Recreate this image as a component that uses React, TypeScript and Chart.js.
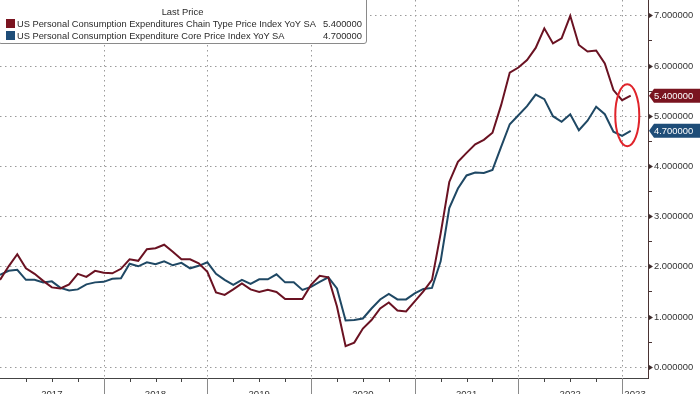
import React, { useEffect, useRef } from "react";
import { Chart, registerables } from "chart.js";
Chart.register(...registerables);

// Monthly YoY values, index 0 = Dec 2016 ... index 73 = Jan 2023 (plotted at month end)
const pceHeadline = [
  1.73, 2.0, 2.24, 1.96, 1.85, 1.71, 1.58, 1.56, 1.64, 1.85, 1.79, 1.91, 1.87,
  1.86, 1.95, 2.14, 2.11, 2.34, 2.36, 2.43, 2.29, 2.14, 2.14, 2.06, 1.89,
  1.48, 1.43, 1.54, 1.66, 1.54, 1.49, 1.53, 1.49, 1.35, 1.35, 1.35, 1.63,
  1.81, 1.78, 1.2, 0.41, 0.48, 0.76, 0.93, 1.16, 1.28, 1.12, 1.1, 1.3,
  1.5, 1.73, 2.65, 3.68, 4.08, 4.26, 4.43, 4.52, 4.66, 5.21, 5.86, 5.96,
  6.11, 6.35, 6.74, 6.44, 6.54, 6.99, 6.41, 6.28, 6.3, 6.04, 5.51, 5.31, 5.4,
];
const pceCore = [
  1.83, 1.91, 1.93, 1.73, 1.73, 1.68, 1.7, 1.57, 1.52, 1.54, 1.64, 1.68, 1.69,
  1.75, 1.76, 2.05, 2.0, 2.08, 2.04, 2.1, 2.02, 2.07, 1.96, 2.01, 2.08,
  1.85, 1.73, 1.63, 1.73, 1.65, 1.74, 1.74, 1.84, 1.68, 1.68, 1.53, 1.59,
  1.69, 1.78, 1.56, 0.92, 0.93, 0.96, 1.16, 1.34, 1.45, 1.34, 1.34, 1.46,
  1.55, 1.57, 2.1, 3.16, 3.55, 3.81, 3.87, 3.86, 3.92, 4.38, 4.83, 5.01,
  5.19, 5.42, 5.33, 4.99, 4.88, 5.03, 4.71, 4.9, 5.18, 5.03, 4.68, 4.6, 4.7,
];
const seriesNames = [
  "US Personal Consumption Expenditures Chain Type Price Index YoY SA",
  "US Personal Consumption Expenditure Core Price Index YoY SA",
];
const lastValues = ["5.400000", "4.700000"];
const yearLabels = ["2017", "2018", "2019", "2020", "2021", "2022", "2023"];
const yTicks = [0, 1, 2, 3, 4, 5, 6, 7];

const X_MIN = 0;
const X_MAX = 75;
const Y_MIN = -0.225;
const Y_MAX = 7.305;

const RED = "#6a1222";
const BLUE = "#1f4864";
const RED_LABEL = "#7a1420";
const BLUE_LABEL = "#1e4d78";
const FONT = '"Liberation Sans", Arial, sans-serif';

const axesPlugin = {
  id: "bbgAxes",
  beforeDatasetsDraw(chart: any) {
    const ctx = chart.ctx;
    const { left, right, top, bottom } = chart.chartArea;
    const xs = chart.scales.x;
    const ys = chart.scales.y;
    const H = chart.height;
    ctx.save();
    // horizontal dotted grid
    ctx.strokeStyle = "#9a9a9a";
    ctx.lineWidth = 1;
    ctx.setLineDash([1.5, 3.5]);
    yTicks.forEach((v) => {
      const y = Math.round(ys.getPixelForValue(v)) + 0.5;
      ctx.beginPath();
      ctx.moveTo(left, y);
      ctx.lineTo(right, y);
      ctx.stroke();
    });
    // vertical dotted grid at year boundaries
    for (let j = 1; j < yearLabels.length; j++) {
      const x = Math.round(xs.getPixelForValue(j * 12)) + 0.5;
      ctx.beginPath();
      ctx.moveTo(x, top);
      ctx.lineTo(x, bottom);
      ctx.stroke();
    }
    ctx.setLineDash([]);
    // bottom axis
    ctx.strokeStyle = "#444";
    ctx.beginPath();
    ctx.moveTo(left, bottom + 0.5);
    ctx.lineTo(right, bottom + 0.5);
    ctx.stroke();
    // major year ticks below axis
    ctx.strokeStyle = "#8a8a8a";
    for (let j = 1; j < yearLabels.length; j++) {
      const x = Math.round(xs.getPixelForValue(j * 12)) + 0.5;
      ctx.beginPath();
      ctx.moveTo(x, bottom);
      ctx.lineTo(x, H);
      ctx.stroke();
    }
    // quarter ticks
    ctx.strokeStyle = "#444";
    for (let k = 3; k < X_MAX; k += 3) {
      if (k % 12 === 0) continue;
      const x = Math.round(xs.getPixelForValue(k)) + 0.5;
      ctx.beginPath();
      ctx.moveTo(x, bottom);
      ctx.lineTo(x, bottom + 4);
      ctx.stroke();
    }
    // right axis line
    ctx.strokeStyle = "#4a3434";
    ctx.beginPath();
    ctx.moveTo(right + 0.5, top);
    ctx.lineTo(right + 0.5, bottom + 1);
    ctx.stroke();
    // y ticks
    ctx.fillStyle = "#3d2b2b";
    yTicks.forEach((v) => {
      const y = Math.round(ys.getPixelForValue(v)) + 0.5;
      ctx.beginPath();
      ctx.moveTo(right + 1, y - 2.5);
      ctx.lineTo(right + 5, y);
      ctx.lineTo(right + 1, y + 2.5);
      ctx.closePath();
      ctx.fill();
      if (v < yTicks[yTicks.length - 1]) {
        const ym = Math.round(ys.getPixelForValue(v + 0.5)) + 0.5;
        ctx.beginPath();
        ctx.moveTo(right, ym);
        ctx.lineTo(right + 4, ym);
        ctx.stroke();
      }
    });
    // y labels
    ctx.fillStyle = "#333";
    ctx.font = `9.4px ${FONT}`;
    ctx.textBaseline = "middle";
    ctx.textAlign = "left";
    yTicks.forEach((v) => {
      const y = ys.getPixelForValue(v);
      ctx.fillText(v.toFixed(6), right + 6, y + 0.5);
    });
    // x labels (centered on visible part of each year)
    ctx.font = `9.6px ${FONT}`;
    ctx.textAlign = "center";
    ctx.textBaseline = "top";
    yearLabels.forEach((lab, j) => {
      const a = j * 12;
      const b = Math.min((j + 1) * 12, X_MAX);
      const x = xs.getPixelForValue((a + b) / 2);
      ctx.fillText(lab, x, bottom + 12);
    });
    ctx.restore();
  },
  afterDatasetsDraw(chart: any) {
    const ctx = chart.ctx;
    const { right } = chart.chartArea;
    const xs = chart.scales.x;
    const ys = chart.scales.y;
    ctx.save();
    const n = pceHeadline.length - 1;
    // red ellipse around the latest readings
    const cx = xs.getPixelForValue(n - 0.4);
    const cy = ys.getPixelForValue((pceHeadline[n] + pceCore[n]) / 2);
    ctx.strokeStyle = "#e0242b";
    ctx.lineWidth = 2;
    ctx.beginPath();
    ctx.ellipse(cx, cy + 2, 12, 31, 0, 0, Math.PI * 2);
    ctx.stroke();
    // value labels on the right axis
    const tags = [
      { v: pceHeadline[n], t: lastValues[0], c: RED_LABEL },
      { v: pceCore[n], t: lastValues[1], c: BLUE_LABEL },
    ];
    ctx.font = `9.4px ${FONT}`;
    ctx.textBaseline = "middle";
    ctx.textAlign = "left";
    tags.forEach((tg) => {
      const y = ys.getPixelForValue(tg.v);
      ctx.fillStyle = tg.c;
      ctx.beginPath();
      ctx.moveTo(right + 1, y);
      ctx.lineTo(right + 6, y - 7);
      ctx.lineTo(chart.width, y - 7);
      ctx.lineTo(chart.width, y + 7);
      ctx.lineTo(right + 6, y + 7);
      ctx.closePath();
      ctx.fill();
      ctx.fillStyle = "#ffffff";
      ctx.fillText(tg.t, right + 6, y + 0.5);
    });
    ctx.restore();
  },
};

export default function App() {
  const ref = useRef<HTMLCanvasElement | null>(null);
  useEffect(() => {
    if (!ref.current) return;
    const chart = new Chart(ref.current, {
      type: "line",
      data: {
        datasets: [
          {
            label: seriesNames[0],
            data: pceHeadline.map((v, i) => ({ x: i, y: v })),
            borderColor: RED,
            borderWidth: 2,
            pointRadius: 0,
            tension: 0,
          },
          {
            label: seriesNames[1],
            data: pceCore.map((v, i) => ({ x: i, y: v })),
            borderColor: BLUE,
            borderWidth: 2,
            pointRadius: 0,
            tension: 0,
          },
        ],
      },
      options: {
        animation: false,
        responsive: false,
        maintainAspectRatio: false,
        layout: { padding: { left: 0, top: 0, right: 52, bottom: 16 } },
        plugins: { legend: { display: false }, tooltip: { enabled: false } },
        scales: {
          x: { type: "linear", min: X_MIN, max: X_MAX, display: false },
          y: { type: "linear", min: Y_MIN, max: Y_MAX, display: false },
        },
      },
      plugins: [axesPlugin],
    });
    return () => chart.destroy();
  }, []);

  const txt: React.CSSProperties = {
    position: "absolute",
    fontFamily: FONT,
    fontSize: "9.4px",
    lineHeight: "10px",
    color: "#2a2a2a",
    whiteSpace: "nowrap",
  };
  return (
    <div style={{ position: "fixed", left: 0, top: 0, width: 700, height: 394, background: "#fff", overflow: "hidden" }}>
      <canvas ref={ref} width={700} height={394} style={{ position: "absolute", left: 0, top: 0 }} />
      <div
        style={{
          position: "absolute",
          left: -2,
          top: -3,
          width: 367,
          height: 45,
          border: "1px solid #8a8a8a",
          borderRadius: 3,
          background: "#fff",
        }}
      >
        <span style={{ ...txt, left: 0, width: 367, textAlign: "center", top: 9 }}>Last Price</span>
        <div style={{ position: "absolute", left: 7, top: 21, width: 9, height: 9, background: RED_LABEL }} />
        <span style={{ ...txt, left: 18, top: 21, fontSize: "9.3px" }}>{seriesNames[0]}</span>
        <span style={{ ...txt, right: 4, top: 21 }}>{lastValues[0]}</span>
        <div style={{ position: "absolute", left: 7, top: 33, width: 9, height: 9, background: BLUE_LABEL }} />
        <span style={{ ...txt, left: 18, top: 33, fontSize: "9.3px" }}>{seriesNames[1]}</span>
        <span style={{ ...txt, right: 4, top: 33 }}>{lastValues[1]}</span>
      </div>
    </div>
  );
}
